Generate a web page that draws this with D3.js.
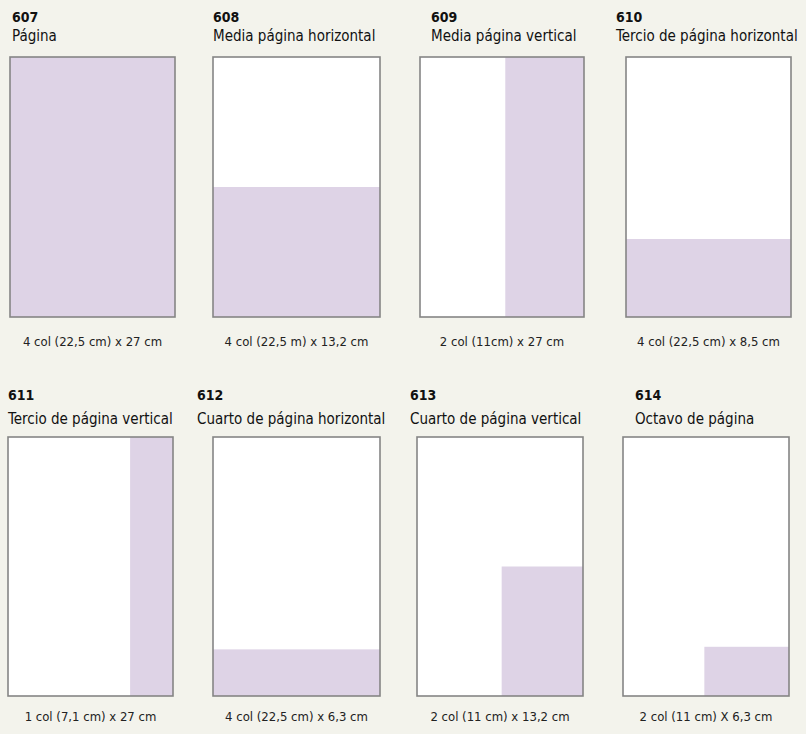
<!DOCTYPE html>
<html>
<head>
<meta charset="utf-8">
<script src="https://cdn.jsdelivr.net/npm/d3@7"></script>
<style>
  html, body { margin: 0; padding: 0; background: #f3f3ec; }
  svg { display: block; }
  .code { font-family: "Liberation Sans Narrow", "DejaVu Sans Condensed", sans-serif; font-weight: bold; font-size: 14px; fill: #111; }
  .title { font-family: "Liberation Sans Narrow", "DejaVu Sans Condensed", sans-serif; font-size: 15px; fill: #111; }
  .caption { font-family: "Liberation Sans Narrow", "DejaVu Sans Condensed", sans-serif; font-size: 13px; fill: #222; }
</style>
</head>
<body>
<div id="chart"></div>
<script>
// ad formats: code, name, size caption, and the share of the page each one takes
const codes = ['607', '608', '609', '610', '611', '612', '613', '614'];
const titles = [
  'Página',
  'Media página horizontal',
  'Media página vertical',
  'Tercio de página horizontal',
  'Tercio de página vertical',
  'Cuarto de página horizontal',
  'Cuarto de página vertical',
  'Octavo de página'
];
const captions = [
  '4 col (22,5 cm) x 27 cm',
  '4 col (22,5 m) x 13,2 cm',
  '2 col (11cm) x 27 cm',
  '4 col (22,5 cm) x 8,5 cm',
  '1 col (7,1 cm) x 27 cm',
  '4 col (22,5 cm) x 6,3 cm',
  '2 col (11 cm) x 13,2 cm',
  '2 col (11 cm) X 6,3 cm'
];
// width / height share of the page, anchored bottom-right
const widthShare = [1, 1, 0.48, 1, 0.26, 1, 0.49, 0.51];
const heightShare = [1, 0.50, 1, 0.30, 1, 0.18, 0.50, 0.19];

const width = 806;
const height = 734;

// page box placement per panel
const boxLeft = [10, 213, 420, 626, 8, 213, 417, 623];
const boxRight = [175, 380, 584, 791, 173, 380, 583, 789];
const titleLeft = [12, 213, 431, 616, 8, 197, 410, 635];
const rows = [
  { top: 57, bottom: 317, code: 22, title: 41, caption: 346 },
  { top: 437, bottom: 696, code: 400, title: 424, caption: 721 }
];

const svg = d3.select('#chart')
  .append('svg')
  .attr('width', width)
  .attr('height', height);

svg.append('rect')
  .attr('width', width)
  .attr('height', height)
  .attr('fill', '#f3f3ec');

const panels = codes.map((c, i) => ({
  code: c,
  title: titles[i],
  caption: captions[i],
  w: widthShare[i],
  h: heightShare[i],
  x0: boxLeft[i],
  x1: boxRight[i],
  tx: titleLeft[i],
  row: rows[Math.floor(i / 4)]
}));

const g = svg.selectAll('g.panel')
  .data(panels)
  .join('g')
  .attr('class', 'panel');

g.each(function (d) {
  const sel = d3.select(this);
  const x = d3.scaleLinear().domain([0, 1]).range([d.x1, d.x0]);
  const y = d3.scaleLinear().domain([0, 1]).range([d.row.bottom, d.row.top]);

  sel.append('rect')
    .attr('x', d.x0)
    .attr('y', d.row.top)
    .attr('width', d.x1 - d.x0)
    .attr('height', d.row.bottom - d.row.top)
    .attr('fill', '#ffffff');

  sel.append('rect')
    .attr('x', x(d.w))
    .attr('y', y(d.h))
    .attr('width', d.x1 - x(d.w))
    .attr('height', d.row.bottom - y(d.h))
    .attr('fill', '#ded3e6');

  sel.append('rect')
    .attr('x', d.x0)
    .attr('y', d.row.top)
    .attr('width', d.x1 - d.x0)
    .attr('height', d.row.bottom - d.row.top)
    .attr('fill', 'none')
    .attr('stroke', '#858585')
    .attr('stroke-width', 1.6);

  sel.append('text')
    .attr('class', 'code')
    .attr('x', d.tx)
    .attr('y', d.row.code)
    .text(d.code);

  sel.append('text')
    .attr('class', 'title')
    .attr('x', d.tx)
    .attr('y', d.row.title)
    .text(d.title);

  sel.append('text')
    .attr('class', 'caption')
    .attr('x', (d.x0 + d.x1) / 2)
    .attr('y', d.row.caption)
    .attr('text-anchor', 'middle')
    .text(d.caption);
});
</script>
</body>
</html>
